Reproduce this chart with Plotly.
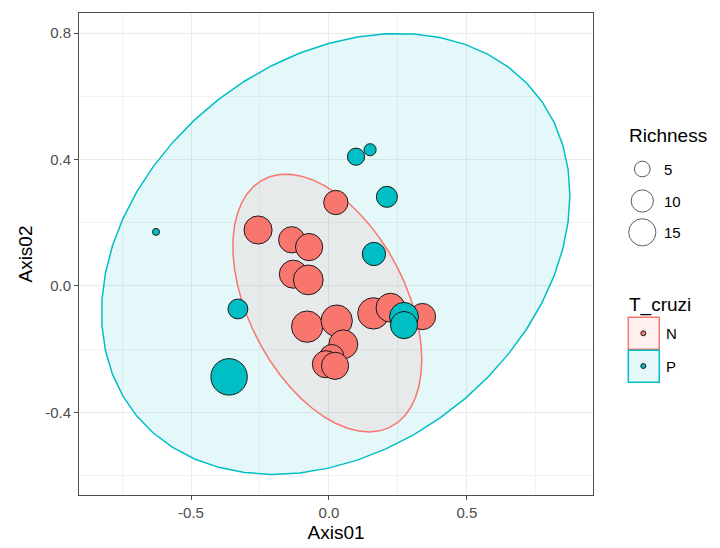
import numpy as np
import plotly.graph_objects as go

# ---------------- data ----------------
n_axis01 = [-0.257, -0.135, -0.072, -0.129, -0.075, 0.025, 0.161, 0.223, 0.339,
            -0.079, 0.028, 0.052, 0.010, -0.011, 0.022]
n_axis02 = [0.177, 0.146, 0.123, 0.037, 0.019, 0.264, -0.087, -0.069, -0.097,
            -0.129, -0.110, -0.185, -0.224, -0.248, -0.253]
n_richness = [16, 14, 15, 16, 18, 12, 20, 17, 14, 20, 20, 17, 12, 15, 15]

p_axis01 = [-0.627, -0.330, -0.362, 0.098, 0.149, 0.210, 0.163, 0.272, 0.272]
p_axis02 = [0.171, -0.073, -0.288, 0.409, 0.431, 0.282, 0.101, -0.098, -0.124]
p_richness = [1, 8, 27, 6, 3, 9, 11, 17, 15]

tcruzi_levels = ["N", "P"]
richness_breaks = [5, 10, 15]
x_ticks = [-0.5, 0.0, 0.5]
x_ticklabels = ["-0.5", "0.0", "0.5"]
y_ticks = [-0.4, 0.0, 0.4, 0.8]
y_ticklabels = ["-0.4", "0.0", "0.4", "0.8"]

# ---------------- styles ----------------
COL = {"N": "#F8766D", "P": "#00BFC4"}
FILL = {"N": "rgba(248,118,109,0.10)", "P": "rgba(0,191,196,0.10)"}
FONT = "Liberation Sans, Arial, Helvetica, sans-serif"
SIZEREF = 0.0406


def cov_trob(X, nu=5, maxit=25, tol=0.01):
    """Port of MASS::cov.trob (as used by ggplot2::stat_ellipse)."""
    X = np.asarray(X, float)
    n, p = X.shape
    wt = np.ones(n)
    loc = X.mean(axis=0)
    w = np.sqrt(wt)
    Xc = X - loc
    for _ in range(maxit):
        w0 = w
        Xc = X - loc
        A = np.sqrt(w / w.sum())[:, None] * Xc
        _, d, Vt = np.linalg.svd(A, full_matrices=False)
        wX = Xc @ Vt.T @ np.diag(1.0 / d)
        Q = (wX ** 2).sum(axis=1)
        w = (wt * (nu + p)) / (nu + Q)
        loc = (w[:, None] * X).sum(axis=0) / w.sum()
        if np.all(np.abs(w - w0) < tol):
            break
    sw = np.sqrt(w)[:, None] * Xc
    cov = sw.T @ sw / wt.sum()
    return cov, loc


def stat_ellipse(x, y, level=0.95, segments=51):
    X = np.column_stack([x, y])
    cov, center = cov_trob(X)
    R = np.linalg.cholesky(cov).T
    dfd = len(x) - 1
    qf = (dfd / 2.0) * ((1 - level) ** (-2.0 / dfd) - 1)
    radius = np.sqrt(2 * qf)
    ang = np.arange(segments + 1) * 2 * np.pi / segments
    circ = np.column_stack([np.cos(ang), np.sin(ang)])
    pts = center + radius * (circ @ R)
    return pts[:, 0], pts[:, 1]


groups = {
    "N": (n_axis01, n_axis02, n_richness),
    "P": (p_axis01, p_axis02, p_richness),
}

fig = go.Figure()

# ellipses (drawn first, under points)
for g in ["P", "N"]:
    ex, ey = stat_ellipse(groups[g][0], groups[g][1])
    fig.add_trace(go.Scatter(
        x=ex, y=ey, mode="lines", fill="toself", fillcolor=FILL[g],
        line=dict(color=COL[g], width=1.5), hoverinfo="skip", showlegend=False))

# points
for g in tcruzi_levels:
    xs, ys, rs = groups[g]
    fig.add_trace(go.Scatter(
        x=xs, y=ys, mode="markers", name=g, showlegend=False,
        marker=dict(size=rs, sizemode="area", sizeref=SIZEREF, color=COL[g],
                    line=dict(color="#1a1a1a", width=1), opacity=1),
        customdata=rs,
        hovertemplate="Axis01=%{x}<br>Axis02=%{y}<br>Richness=%{customdata}<extra>" + g + "</extra>"))

# ---------------- manual legend (on pixel-coordinate helper axes) ----------------
L = 79
R_EDGE = 593
W = 720
paper_w = W - L
xd = (R_EDGE - L) / paper_w

leg_x = 642.3
size_y = [169, 201, 232.3]
fig.add_trace(go.Scatter(
    x=[leg_x] * len(richness_breaks), y=size_y, mode="markers",
    xaxis="x2", yaxis="y2", showlegend=False, hoverinfo="skip",
    marker=dict(size=richness_breaks, sizemode="area", sizeref=SIZEREF,
                color="rgba(255,255,255,0)", line=dict(color="#1a1a1a", width=1))))

box_y = [(317.3, 349.3), (350.3, 382.3)]
dot_y = [333.3, 366.0]
shapes = []
annotations = []
for i, g in enumerate(tcruzi_levels):
    shapes.append(dict(type="rect", xref="x2", yref="y2", x0=628.3, x1=659.3,
                       y0=box_y[i][0], y1=box_y[i][1], fillcolor=FILL[g],
                       line=dict(color=COL[g], width=1.5), layer="below"))
    annotations.append(dict(x=663.5, y=dot_y[i], xref="x2", yref="y2", text=g,
                            showarrow=False, xanchor="left", yanchor="middle",
                            font=dict(size=15, color="#000000", family=FONT)))
fig.add_trace(go.Scatter(
    x=[643.3, 643.3], y=dot_y, mode="markers", xaxis="x2", yaxis="y2",
    showlegend=False, hoverinfo="skip",
    marker=dict(size=5, color=[COL[g] for g in tcruzi_levels],
                line=dict(color="#1a1a1a", width=1))))

for lab, yy in zip(richness_breaks, size_y):
    annotations.append(dict(x=661.5, y=yy, xref="x2", yref="y2", text=str(lab),
                            showarrow=False, xanchor="left", yanchor="middle",
                            font=dict(size=15, color="#000000", family=FONT)))
annotations.append(dict(x=627, y=135.7, xref="x2", yref="y2", text="Richness",
                        showarrow=False, xanchor="left", yanchor="middle",
                        font=dict(size=19, color="#000000", family=FONT)))
annotations.append(dict(x=627, y=305, xref="x2", yref="y2", text="T_cruzi",
                        showarrow=False, xanchor="left", yanchor="middle",
                        font=dict(size=19, color="#000000", family=FONT)))

axis_common = dict(
    showline=True, linecolor="#4d4d4d", linewidth=1, mirror=True,
    ticks="outside", ticklen=4, tickwidth=1, tickcolor="#4d4d4d",
    tickfont=dict(size=15, color="#4d4d4d", family=FONT),
    showgrid=True, gridcolor="#ebebeb", gridwidth=1.1, zeroline=False,
)

fig.update_layout(
    width=720, height=548,
    margin=dict(l=L, r=0, t=13, b=53),
    paper_bgcolor="white", plot_bgcolor="white",
    showlegend=False,
    font=dict(family=FONT),
    xaxis=dict(domain=[0, xd], range=[-0.906, 0.957], tickmode="array",
               tickvals=x_ticks, ticktext=x_ticklabels,
               minor=dict(dtick=0.25, tick0=0, showgrid=True, gridcolor="#f2f2f2",
                          gridwidth=0.8, ticks=""),
               title=dict(text="Axis01", standoff=5,
                          font=dict(size=19, color="#000000", family=FONT)),
               **axis_common),
    yaxis=dict(range=[-0.662, 0.864], tickmode="array",
               tickvals=y_ticks, ticktext=y_ticklabels,
               minor=dict(dtick=0.2, tick0=0, showgrid=True, gridcolor="#f2f2f2",
                          gridwidth=0.8, ticks=""),
               title=dict(text="Axis02", standoff=7,
                          font=dict(size=19, color="#000000", family=FONT)),
               **axis_common),
    xaxis2=dict(domain=[xd, 1], range=[R_EDGE, W], visible=False, fixedrange=True),
    yaxis2=dict(domain=[0, 1], range=[495, 13], visible=False, fixedrange=True,
                anchor="x2"),
    shapes=shapes,
    annotations=annotations,
)

fig.write_html("out.html")
